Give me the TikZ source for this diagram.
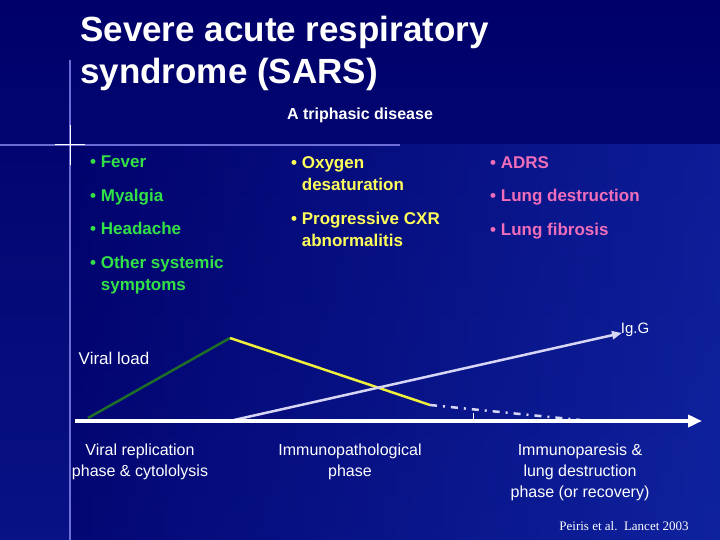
\documentclass[tikz,border=0pt]{standalone}
\usepackage{fontspec}
\setmainfont{Liberation Sans}
\newfontfamily\serifff{Liberation Serif}
\usetikzlibrary{arrows.meta}
\definecolor{bgA}{RGB}{0,0,105}
\definecolor{bgB}{RGB}{20,45,175}
\definecolor{tgreen}{RGB}{50,225,70}
\definecolor{tyellow}{RGB}{255,255,90}
\definecolor{tpink}{RGB}{240,110,185}
\definecolor{lav}{RGB}{215,215,245}
\definecolor{dgreen}{RGB}{30,110,40}
\definecolor{lyel}{RGB}{240,240,60}
\tikzset{
  blist/.style={anchor=north west,align=left,inner sep=0pt,font=\bfseries\fontsize{17pt}{22.5pt}\selectfont},
  lab/.style={text=white,align=center,font=\fontsize{16pt}{21pt}\selectfont},
}
\begin{document}
\begin{tikzpicture}[x=1pt,y=-1pt]
\useasboundingbox (0,0) rectangle (720,540);
\shade[top color=bgA,bottom color=bgA!60!bgB] (0,0) rectangle (720,540);
\shade[left color=bgA, right color=bgB,opacity=0.6] (70,145) rectangle (720,540);
\draw[white!60!blue,line width=1.2pt,opacity=0.7] (70,60) -- (70,540);
\draw[white!60!blue,line width=1.2pt,opacity=0.7] (0,145) -- (400,145);
\draw[white,line width=1pt] (55,145) -- (85,145) (70,125) -- (70,165);
\node[anchor=west,text=white,font=\bfseries\fontsize{35pt}{42pt}\selectfont,align=left,inner sep=0pt] (title) at (80,53) {Severe acute respiratory\\syndrome (SARS)};
\node[text=white,font=\bfseries\fontsize{16pt}{18pt}\selectfont] (sub) at (360,115) {A triphasic disease};
\node[blist,text=tgreen] (c1) at (90,156) {\textbullet\ Fever\\[11pt]\textbullet\ Myalgia\\[11pt]\textbullet\ Headache\\[11pt]\textbullet\ Other systemic\\\phantom{\textbullet\ }symptoms};
\node[blist,text=tyellow] (c2) at (291,156) {\textbullet\ Oxygen\\\phantom{\textbullet\ }desaturation\\[11pt]\textbullet\ Progressive CXR\\\phantom{\textbullet\ }abnormalitis};
\node[blist,text=tpink] (c3) at (490,156) {\textbullet\ ADRS\\[11pt]\textbullet\ Lung destruction\\[11pt]\textbullet\ Lung fibrosis};
\node[text=white,font=\fontsize{15pt}{18pt}\selectfont] (igg) at (635,330) {Ig.G};
\node[text=white,font=\fontsize{17pt}{18pt}\selectfont] (vl) at (114,358) {Viral load};
\coordinate (o) at (75,421); \coordinate (e) at (702,421);
\coordinate (g0) at (88,418); \coordinate (pk) at (230,338);
\coordinate (y1) at (430,405); \coordinate (y2) at (580,420);
\coordinate (i0) at (234,420); \coordinate (i1) at (622,333);
\coordinate (t0) at (473,413); \coordinate (t1) at (473,421);
\draw[dgreen,line width=2.5pt] (g0) -- (pk);
\draw[lyel,line width=2.5pt] (pk) -- (y1);
\draw[lav,line width=2.5pt,dash pattern=on 7pt off 6pt on 2pt off 6pt] (y1) -- (y2);
\draw[lav,line width=2.5pt,-{Triangle[length=10pt,width=8pt]}] (i0) -- (i1);
\draw[white,line width=0.6pt] (t0) -- (t1);
\draw[white,line width=3.5pt,-{Triangle[length=14pt,width=12pt]}] (o) -- (e);
\node[lab] (p1) at (140,462) {Viral replication\\phase \& cytololysis};
\node[lab] (p2) at (350,462) {Immunopathological\\phase};
\node[lab] (p3) at (580,472) {Immunoparesis \&\\lung destruction\\phase (or recovery)};
\node[text=white,font=\serifff\fontsize{13pt}{14pt}\selectfont] (ref) at (624,526) {Peiris et al.\ \ Lancet 2003};
\end{tikzpicture}
\end{document}
